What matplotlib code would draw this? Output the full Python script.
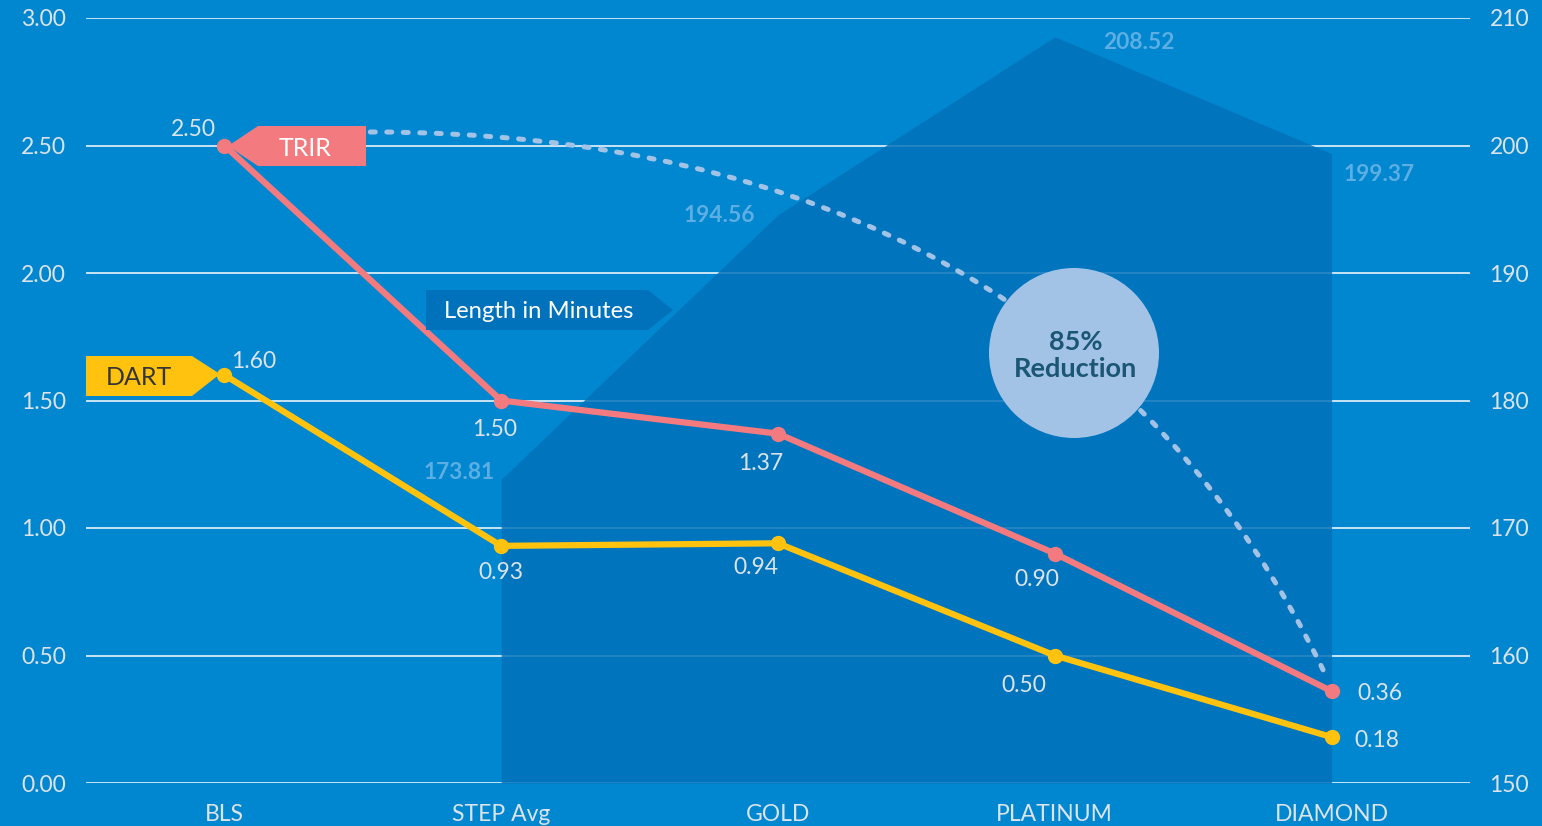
import matplotlib
matplotlib.use("Agg")
import matplotlib.pyplot as plt
from matplotlib.patches import Polygon, Circle, PathPatch
from matplotlib.path import Path

# ---------------- data ----------------
categories = ["BLS", "STEP Avg", "GOLD", "PLATINUM", "DIAMOND"]
trir = [2.50, 1.50, 1.37, 0.90, 0.36]
dart = [1.60, 0.93, 0.94, 0.50, 0.18]
length_cats = ["STEP Avg", "GOLD", "PLATINUM", "DIAMOND"]
length_minutes = [173.81, 194.56, 208.52, 199.37]
left_ticks = [0.0, 0.5, 1.0, 1.5, 2.0, 2.5, 3.0]
right_ticks = [150, 160, 170, 180, 190, 200, 210]

# ---------------- styles ----------------
BG = "#0087CF"
AREA = "#0070B9"
TRIR_C = "#F37B80"
DART_C = "#FFC20F"
TXT = "#DCE3EA"
AREA_TXT = "#5DAEE3"
CURVE_C = "#A3C3E6"
FONT = ["Lato", "DejaVu Sans"]
plt.rcParams["font.family"] = FONT
FS = 16.5

W, H = 1542, 826
fig = plt.figure(figsize=(W / 100, H / 100), dpi=100, facecolor=BG)
ax = fig.add_axes([86 / W, 43 / H, 1384 / W, 765 / H])
ax2 = ax.twinx()
ax.set_zorder(2)
ax.patch.set_visible(False)
ax2.patch.set_visible(False)

x = list(range(len(categories)))
xa = [categories.index(c) for c in length_cats]

# right axis: area + grid
ax2.set_ylim(150, 210)
ax2.set_xlim(-0.5, 4.5)
for v in right_ticks:
    ax2.axhline(v, color="#EAF4FB", lw=1.2, zorder=0.5)
ax2.fill_between(xa, length_minutes, 150, color=AREA, alpha=0.82, lw=0, zorder=1)
ax2.set_yticks(right_ticks)
ax2.set_yticklabels([f"{v}" for v in right_ticks])
area_off = [(-30, 5.0), (-42, -0.8), (60.5, -3.7), (34.5, -15.2)]
for xi, v, off in zip(xa, length_minutes, area_off):
    ax2.annotate(f"{v:.2f}", (xi, v), xytext=off, textcoords="offset points",
                 ha="center", va="center", color=AREA_TXT, fontsize=16.4,
                 fontweight="bold", zorder=3)

# left axis: lines
ax.set_xlim(-0.5, 4.5)
ax.set_ylim(0, 3)
ax.plot(x, trir, color=TRIR_C, lw=4.5, marker="o", ms=10, zorder=5,
        solid_capstyle="round")
ax.plot(x, dart, color=DART_C, lw=4.5, marker="o", ms=10, zorder=5,
        solid_capstyle="round")
ax.set_yticks(left_ticks)
ax.set_yticklabels([f"{v:.2f}" for v in left_ticks])
ax.set_xticks(x)
ax.set_xticklabels(categories)

trir_off = [(-22, 11.2), (-5, -20.8), (-12.2, -21.5), (-13, -18.8), (34.5, -1.5)]
dart_off = [(21, 9.5), (0, -19.5), (-15.8, -17.3), (-22.3, -21.7), (32.4, -2.2)]
for xi, v, off in zip(x, trir, trir_off):
    ax.annotate(f"{v:.2f}", (xi, v), xytext=off, textcoords="offset points",
                ha="center", va="center", color=TXT, fontsize=FS, zorder=6)
for xi, v, off in zip(x, dart, dart_off):
    ax.annotate(f"{v:.2f}", (xi, v), xytext=off, textcoords="offset points",
                ha="center", va="center", color=TXT, fontsize=FS, zorder=6)

for a in (ax, ax2):
    for s in a.spines.values():
        s.set_visible(False)
    a.tick_params(length=0, labelsize=FS, labelcolor=TXT)
ax.tick_params(axis="y", pad=14.5)
ax.tick_params(axis="x", pad=15)
ax2.tick_params(axis="y", pad=14)

# dotted arc (data coordinates of left axis)
verts = [(0.527, 2.553), (2.152, 2.553), (3.347, 1.851), (3.978, 0.424)]
path = Path(verts, [Path.MOVETO, Path.CURVE4, Path.CURVE4, Path.CURVE4])
pp = PathPatch(path, fill=False, edgecolor=CURVE_C, lw=3.6, zorder=4)
pp.set_linestyle((0, (1.0, 2.3)))
pp.set_capstyle("round")
ax.add_patch(pp)

# helper: pixel coords -> inches for figure-level decorations
def P(px, py):
    return (px / 100, (H - py) / 100)

tr = fig.dpi_scale_trans

# TRIR tag
fig.add_artist(Polygon([P(228, 146), P(258, 126), P(366, 126), P(366, 166), P(258, 166)],
                       closed=True, facecolor=TRIR_C, edgecolor="none", transform=tr, zorder=5))
fig.text(*P(305, 148), "TRIR", transform=tr, ha="center", va="center",
         color="white", fontsize=18, zorder=6)
# DART tag
fig.add_artist(Polygon([P(86, 356), P(192, 356), P(220, 374), P(192, 396), P(86, 396)],
                       closed=True, facecolor=DART_C, edgecolor="none", transform=tr, zorder=5))
fig.text(*P(139, 378), "DART", transform=tr, ha="center", va="center",
         color="#353535", fontsize=18, zorder=6)
# Length in Minutes tag
fig.add_artist(Polygon([P(426, 290), P(648, 290), P(673, 310), P(648, 330), P(426, 330)],
                       closed=True, facecolor="#0072BC", edgecolor="none", transform=tr, zorder=5))
fig.text(*P(539, 311), "Length in Minutes", transform=tr, ha="center", va="center",
         color="white", fontsize=17.2, zorder=6)

# circle
fig.add_artist(Circle(P(1074, 353), 0.85, facecolor="#A3C3E6", edgecolor="none",
                      transform=tr, zorder=5))
fig.text(*P(1076, 342), "85%", transform=tr, ha="center", va="center",
         color="#1B5775", fontsize=19.5, fontweight="bold", zorder=6)
fig.text(*P(1076, 369), "Reduction", transform=tr, ha="center", va="center",
         color="#1B5775", fontsize=19.5, fontweight="bold", zorder=6)

fig.savefig("out.png", dpi=100, facecolor=BG)
